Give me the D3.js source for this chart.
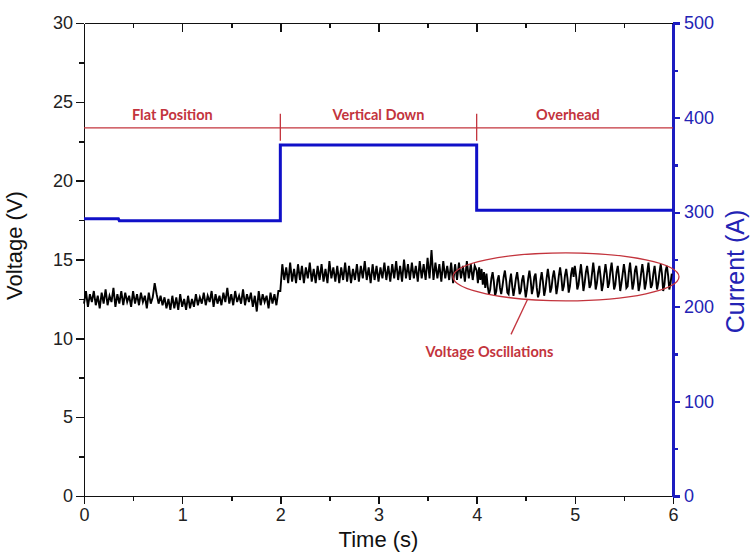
<!DOCTYPE html>
<meta charset="utf-8">
<style>
body { margin: 0; background: #fff; }
.axis text { font-family: "Liberation Sans", Arial, sans-serif; font-size: 18px; fill: #222; }
.axis path, .axis line { stroke: #111; stroke-width: 1.6; shape-rendering: crispEdges; }
.right.axis path, .right.axis line { stroke: #1c1cc0; stroke-width: 2.4; }
.right.axis text { fill: #2323b4; }
.note { font-family: Lato, "Open Sans", sans-serif; font-weight: bold; font-size: 14.5px; fill: #c3343d; }
</style>
<body>
<div id="chart"></div>
<script src="https://cdn.jsdelivr.net/npm/d3@7"></script>
<script>

// time ticks (s)
var timeTicks = [0, 1, 2, 3, 4, 5, 6];
var voltTicks = [0, 5, 10, 15, 20, 25, 30];
var currTicks = [0, 100, 200, 300, 400, 500];

// voltage, flat position, sampled every 0.02 s from 0 s
var voltFlat = [
 12.2,13.0,12.0,12.8,12.3,13.0,12.1,12.7,11.9,12.9,
 12.2,13.1,12.1,12.7,12.3,13.2,12.0,12.8,12.2,13.0,
 12.1,12.9,12.3,12.7,12.0,13.0,12.2,12.8,12.1,12.9,
 12.3,12.7,11.9,12.9,12.2,12.6,13.5,12.8,12.2,12.7,
 12.1,12.6,11.9,12.5,11.8,12.7,11.9,12.6,11.8,12.8,
 12.0,12.5,11.8,12.7,11.9,12.5,12.0,12.8,12.1,12.6,
 12.2,12.9,12.1,12.7,12.3,13.0,12.0,12.8,12.2,12.7,
 12.1,12.9,12.3,13.2,12.2,12.8,12.1,13.0,12.3,12.7,
 12.2,13.1,12.1,12.8,12.3,12.9,12.0,12.7,11.7,13.0,
 12.1,12.8,12.3,12.7,11.9,12.9,12.2,12.8,12.1,13.0
];
// voltage, vertical down, every 0.02 s from 2 s
var voltVertical = [
 13.0,14.7,13.7,14.5,13.5,14.8,13.6,14.4,13.5,14.7,
 13.7,14.6,13.5,14.5,13.8,14.8,13.6,14.4,13.5,14.6,
 13.7,14.7,13.6,14.4,13.5,14.9,13.8,14.5,13.6,14.6,
 13.5,14.5,13.7,14.8,13.6,14.6,13.5,14.4,13.7,14.7,
 13.6,14.6,13.8,14.9,13.7,14.5,13.5,14.7,13.7,14.6,
 13.6,14.5,13.8,14.8,13.7,14.6,13.6,14.7,13.8,14.9,
 13.7,14.6,13.6,15.0,13.8,14.7,13.7,14.8,13.8,14.6,
 13.6,14.9,13.8,14.7,13.7,15.1,13.8,15.6,13.7,14.8,
 13.8,14.7,13.6,14.9,13.8,14.6,13.7,14.8,13.5,14.7,
 13.7,14.8,13.8,14.6,13.6,14.9,13.8,14.7,13.7,14.6
];
// voltage, overhead, every 0.0125 s from 4 s
var voltOverhead = [
 14.3,13.5,14.5,13.7,14.4,13.4,14.2,13.2,
 14.1,13.3,12.8,13.1,13.8, 14.2,13.6,12.7,13.0,13.7,
 14.0,13.2,12.8,13.3,13.9, 14.3,13.7,12.9,12.8,13.6,
 14.1,13.3,12.7,13.2,13.8, 14.2,13.6,12.8,13.0,13.7,
 14.0,13.3,12.6,13.1,13.8, 14.3,13.7,12.8,13.2,13.9,
 14.1,13.2,12.6,12.9,13.7, 14.2,13.6,12.7,13.1,13.8,
 14.4,13.8,12.9,13.2,13.9, 14.3,13.7,12.8,13.3,14.0,
 14.5,13.9,13.0,13.3,14.0, 14.4,13.8,12.9,13.3,14.1,
 14.5,13.9,
 14.6,14.0,13.1,13.4,14.1, 14.7,13.9,13.0,13.5,14.2,
 14.6,14.0,13.2,13.4,14.1, 14.8,14.1,13.1,13.5,14.2,
 14.6,13.9,13.0,13.4,14.1, 14.7,14.1,13.2,13.5,14.3,
 14.8,14.0,13.1,13.4,14.2, 14.6,13.9,13.0,13.5,14.1,
 14.7,14.1,13.2,13.3,14.2, 14.8,14.0,13.1,13.5,14.3,
 14.6,13.9,13.0,13.4,14.1, 14.7,14.1,13.1,13.5,14.2,
 14.8,14.0,13.2,13.4,14.1, 14.6,13.9,13.1,13.5,14.2,
 14.7,14.1,13.0,13.4,14.3, 14.6,14.0,13.1,13.5,14.1
];

// current steps (A)
var currTime = [0, 0.35, 0.36, 2.0, 2.0, 4.0, 4.0, 6.0];
var currAmps = [293, 293, 291, 291, 371, 371, 302, 302];

// position labels
var phases = ["Flat Position", "Vertical Down", "Overhead"];
var phaseMid = [0.9, 3.0, 4.93];
var phaseEdges = [2, 4];

var W = 750, H = 553;
var margin = {top: 23, right: 77, bottom: 57, left: 84};
var width = W - margin.left - margin.right,
    height = H - margin.top - margin.bottom;

var svg = d3.select("#chart").append("svg")
  .attr("width", W).attr("height", H)
  .append("g")
  .attr("transform", "translate(" + margin.left + "," + margin.top + ")");

var x = d3.scaleLinear().domain([0, 6]).range([0, width]);
var yV = d3.scaleLinear().domain([0, 30]).range([height, 0]);
var yA = d3.scaleLinear().domain([0, 500]).range([height, 0]);

// build voltage series
var volt = [];
voltFlat.forEach(function(v, i) { volt.push([i * 0.02, v]); });
voltVertical.forEach(function(v, i) { volt.push([2 + i * 0.02, v]); });
voltOverhead.forEach(function(v, i) { volt.push([4 + i * 0.0125, v]); });

var curr = currTime.map(function(t, i) { return [t, currAmps[i]]; });

// minor ticks
var xMinor = d3.range(0.5, 6, 1);
var vMinor = d3.range(2.5, 30, 5);
var aMinor = d3.range(50, 500, 100);

// bottom axis
svg.append("g").attr("class", "x axis")
  .attr("transform", "translate(0," + height + ")")
  .call(d3.axisBottom(x).tickValues(timeTicks).tickFormat(d3.format("d"))
    .tickSize(8).tickPadding(4).tickSizeOuter(0));
svg.append("g").attr("class", "x axis")
  .attr("transform", "translate(0," + height + ")")
  .call(d3.axisBottom(x).tickValues(xMinor).tickSize(5).tickFormat("").tickSizeOuter(0));

// top axis, inward ticks
svg.append("g").attr("class", "x axis")
  .call(d3.axisTop(x).tickValues(timeTicks.slice(1, 6)).tickSize(-9).tickFormat("").tickSizeOuter(0));
svg.append("g").attr("class", "x axis")
  .call(d3.axisTop(x).tickValues(xMinor).tickSize(-5).tickFormat("").tickSizeOuter(0));

// left axis
svg.append("g").attr("class", "y axis")
  .call(d3.axisLeft(yV).tickValues(voltTicks).tickSize(8).tickPadding(3).tickSizeOuter(0));
svg.append("g").attr("class", "y axis")
  .call(d3.axisLeft(yV).tickValues(vMinor).tickSize(5).tickFormat("").tickSizeOuter(0));

// right axis (current)
svg.append("g").attr("class", "right axis")
  .attr("transform", "translate(" + width + ",0)")
  .call(d3.axisRight(yA).tickValues(currTicks).tickSize(7).tickPadding(4).tickSizeOuter(0));
svg.append("g").attr("class", "right axis")
  .attr("transform", "translate(" + width + ",0)")
  .call(d3.axisRight(yA).tickValues(aMinor).tickSize(5).tickFormat("").tickSizeOuter(0));

// axis titles
svg.append("text")
  .attr("transform", "translate(" + (width / 2) + "," + (height + 51) + ")")
  .attr("text-anchor", "middle")
  .style("font-family", "Liberation Sans, Arial, sans-serif")
  .style("font-size", "22px").style("fill", "#111")
  .text("Time (s)");

svg.append("text")
  .attr("transform", "translate(" + (-62) + "," + (height / 2 - 14) + ") rotate(-90)")
  .attr("text-anchor", "middle")
  .style("font-family", "Liberation Sans, Arial, sans-serif")
  .style("font-size", "22px").style("fill", "#111")
  .text("Voltage (V)");

svg.append("text")
  .attr("transform", "translate(" + (width + 71) + "," + (height / 2 + 12) + ") rotate(-90)")
  .attr("text-anchor", "middle")
  .style("font-family", "Liberation Sans, Arial, sans-serif")
  .style("font-size", "25px").style("fill", "#2323b4")
  .text("Current (A)");

// voltage trace
svg.append("path")
  .datum(volt)
  .attr("fill", "none")
  .attr("stroke", "#000")
  .attr("stroke-width", 1.9)
  .attr("stroke-linejoin", "miter")
  .attr("d", d3.line().x(function(d) { return x(d[0]); }).y(function(d) { return yV(d[1]); }));

// current trace
svg.append("path")
  .datum(curr)
  .attr("fill", "none")
  .attr("stroke", "#1010c8")
  .attr("stroke-width", 3)
  .attr("d", d3.line().x(function(d) { return x(d[0]); }).y(function(d) { return yA(d[1]); }));

// phase annotation line
var red = "#c3343d";
var yLine = yV(23.35);
svg.append("line")
  .attr("x1", 0).attr("x2", width)
  .attr("y1", yLine).attr("y2", yLine)
  .attr("stroke", red).attr("stroke-width", 1.3);
svg.selectAll(".edge")
  .data(phaseEdges)
  .enter().append("line")
  .attr("x1", function(d) { return x(d); }).attr("x2", function(d) { return x(d); })
  .attr("y1", yLine - 14).attr("y2", yLine + 13)
  .attr("stroke", red).attr("stroke-width", 1.3);
svg.selectAll(".phase")
  .data(phases)
  .enter().append("text")
  .attr("class", "note")
  .attr("text-anchor", "middle")
  .attr("x", function(d, i) { return x(phaseMid[i]); })
  .attr("y", yLine - 8)
  .text(function(d) { return d; });

// oscillation ellipse and pointer
svg.append("ellipse")
  .attr("cx", x(4.91)).attr("cy", yV(13.9))
  .attr("rx", 113).attr("ry", 24)
  .attr("fill", "none").attr("stroke", red).attr("stroke-width", 1.3);
svg.append("line")
  .attr("x1", x(4.52)).attr("y1", yV(12.5))
  .attr("x2", x(4.35)).attr("y2", yV(10.25))
  .attr("stroke", red).attr("stroke-width", 1.3);
svg.append("text")
  .attr("class", "note")
  .attr("text-anchor", "middle")
  .attr("x", x(4.13)).attr("y", yV(8.8))
  .text("Voltage Oscillations");

</script>
</body>
</html>
